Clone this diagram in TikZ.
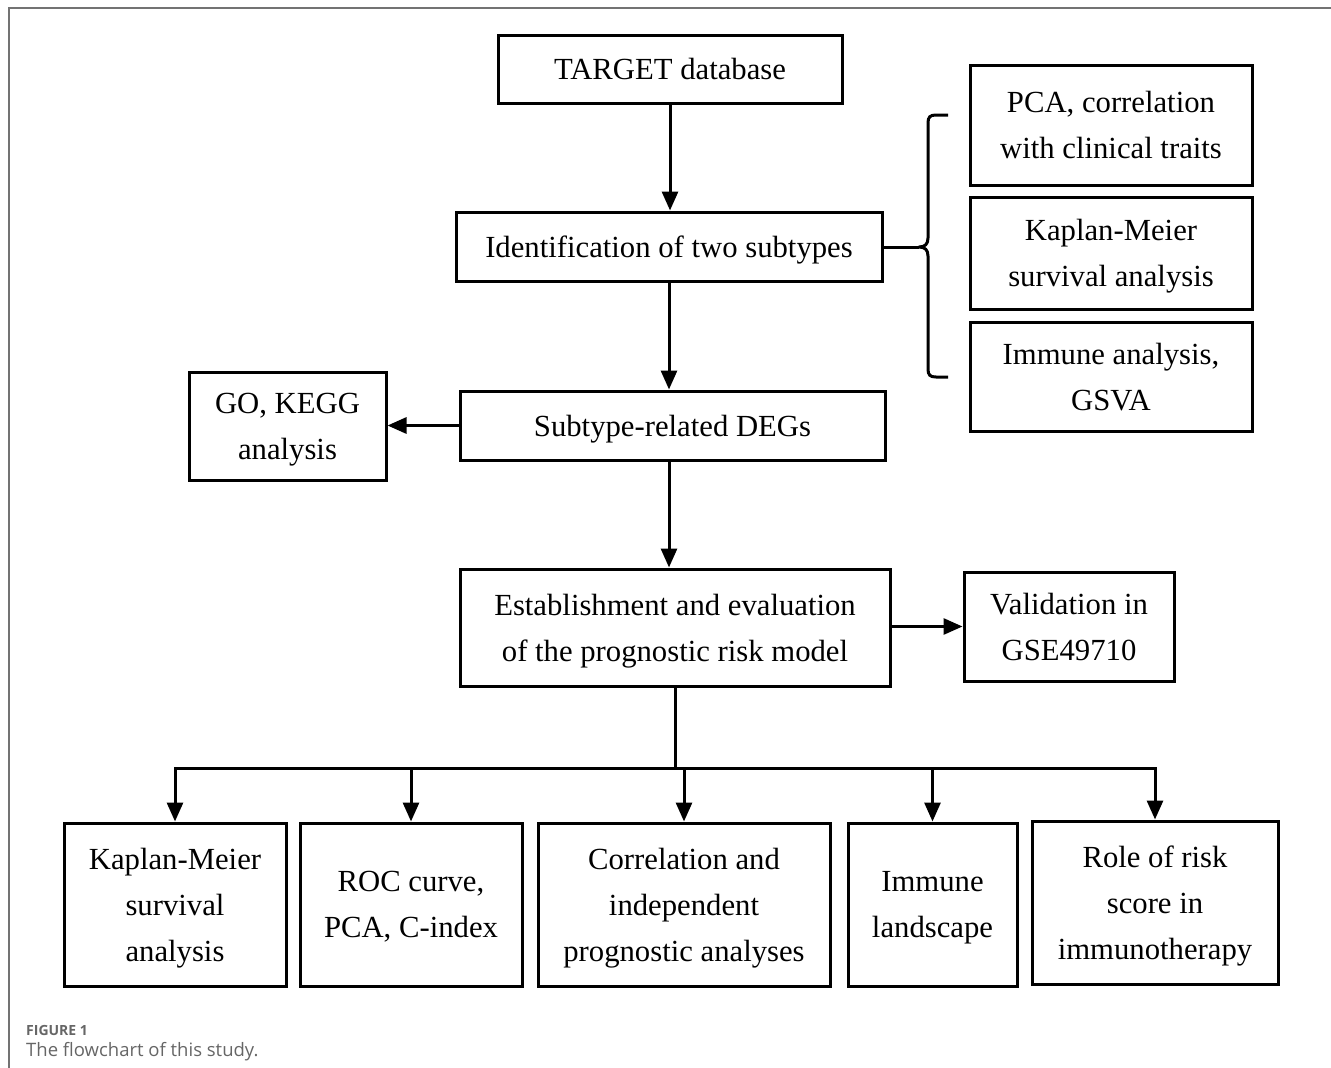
\documentclass[tikz,border=0pt]{standalone}
\usepackage{fontspec}
\setmainfont{Liberation Serif}
\newfontfamily\capfont{Open Sans}
\usetikzlibrary{arrows.meta,calc}
\begin{document}
\begin{tikzpicture}[x=1pt,y=-1pt,
  box/.style={draw=black,line width=3pt,align=center,inner sep=0pt,text depth=0pt,
    font=\fontsize{30.7}{46}\selectfont},
  arr/.style={line width=3pt,-{Triangle[length=19pt,width=16pt]}},
  ln/.style={line width=3pt},
  frame/.style={draw=black!55,line width=1.6pt}]
\path[fill=white] (0,0) rectangle (1331,1068);
\useasboundingbox (0,0) rectangle (1331,1068);
\draw[frame] (9,1068) -- (9,8) -- (1331,8);

\node[box,minimum width=344pt,minimum height=68pt] (target) at (670,69) {TARGET database};
\node[box,minimum width=426pt,minimum height=69pt] (ident) at (669,246.5) {Identification of two subtypes};
\node[box,minimum width=425pt,minimum height=69pt] (degs) at (672.5,425.5) {Subtype-related DEGs};
\node[box,minimum width=197pt,minimum height=108pt] (go) at (287.5,426) {GO, KEGG\\analysis};
\node[box,minimum width=430pt,minimum height=117pt] (estab) at (675,627.5) {Establishment and evaluation\\of the prognostic risk model};
\node[box,minimum width=210pt,minimum height=109pt] (valid) at (1069,626.5) {Validation in\\GSE49710};

\node[box,minimum width=282pt,minimum height=120pt] (pca) at (1111,125) {PCA, correlation\\with clinical traits};
\node[box,minimum width=282pt,minimum height=112pt] (km1) at (1111,253) {Kaplan-Meier\\survival analysis};
\node[box,minimum width=282pt,minimum height=109pt] (imm1) at (1111,376.5) {Immune analysis,\\GSVA};

\node[box,minimum width=222pt,minimum height=163pt] (km2) at (175,904.5) {Kaplan-Meier\\survival\\analysis};
\node[box,minimum width=222pt,minimum height=163pt] (roc) at (411,904.5) {ROC curve,\\PCA, C-index};
\node[box,minimum width=292pt,minimum height=163pt] (corr) at (684,904.5) {Correlation and\\independent\\prognostic analyses};
\node[box,minimum width=169pt,minimum height=163pt] (land) at (932.5,904.5) {Immune\\landscape};
\node[box,minimum width=246pt,minimum height=163pt] (role) at (1155,902.5) {Role of risk\\score in\\immunotherapy};

% main flow
\draw[arr] (target.south) -- (ident.north -| target.south);
\draw[arr] (ident.south) -- (degs.north -| ident.south);
\draw[arr] (degs.south -| ident.south) -- (estab.north -| ident.south);
\draw[arr] (degs.west) -- (go.east |- degs.west);
\draw[arr] (estab.east |- valid.west) -- (valid.west);

% bus
\coordinate (bus) at (675,768);
\draw[ln] (estab.south) -- (bus);
\draw[ln,line cap=rect] (km2.north |- bus) -- (role.north |- bus);
\foreach \n in {km2,roc,corr,land,role}
  \draw[arr] (\n.north |- bus) -- (\n.north);

% brace
\coordinate (tip) at (919,247);
\draw[ln] (ident.east |- tip) -- (tip);
\draw[line width=3pt,line join=round]
  (948,115) -- (936,115) .. controls (930,115) and (928,117) .. (928,123)
  -- (928,238) .. controls (928,244) and (925,247) .. (tip)
  .. controls (925,247) and (928,250) .. (928,256)
  -- (928,369) .. controls (928,375) and (930,377) .. (936,377) -- (948,377);

% caption
\node[anchor=west,inner sep=0pt,text=black!60,font=\capfont\bfseries\fontsize{14}{16}\selectfont] (fig) at (26,1030) {FIGURE 1};
\node[anchor=west,inner sep=0pt,text=black!60,font=\capfont\fontsize{18.5}{20}\selectfont] (capt) at (26,1052) {The flowchart of this study.};
\end{tikzpicture}
\end{document}
